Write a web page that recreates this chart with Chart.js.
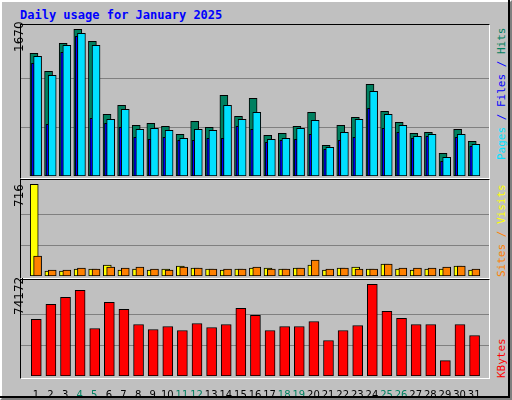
<!DOCTYPE html>
<html>
<head>
<meta charset="utf-8">
<script src="https://cdn.jsdelivr.net/npm/chart.js@4"></script>
<style>
  body { margin: 0; width: 512px; height: 400px; background: #fff; overflow: hidden; }
  #frame { position: absolute; left: 0; top: 0; width: 508px; height: 396px; background: #c0c0c0;
           border: 2px solid; border-color: #fff #808080 #808080 #fff; box-sizing: content-box; }
  #frame2 { position: absolute; left: 0; top: 0; width: 510px; height: 398px; border-right: 2px solid #000; border-bottom: 2px solid #000; box-sizing: border-box; }
  .panel { position: absolute; left: 20px; width: 470px; border: 1px solid; border-color: #000 #fff #fff #000; box-sizing: border-box; }
  canvas { position: absolute; }
  .title { position: absolute; left: 20px; top: 8px; font: bold 12px "DejaVu Sans Mono", monospace; color: #0000ff; }
  .vmax { position: absolute; font: 12px "DejaVu Sans", sans-serif; color: #000; transform-origin: 0 0; transform: rotate(-90deg); white-space: nowrap; }
  .side { position: absolute; font: 11px "DejaVu Sans Mono", monospace; transform-origin: 0 0; transform: rotate(-90deg); white-space: nowrap; }
</style>
</head>
<body>
<div id="frame"></div>
<div id="frame2"></div>
<div class="title">Daily usage for January 2025</div>
<div class="panel" style="top:24px;height:155px"></div>
<div class="panel" style="top:179px;height:100px"></div>
<div class="panel" style="top:279px;height:100px"></div>
<canvas id="c1" style="left:21px;top:25px" width="468" height="151"></canvas>
<canvas id="c2" style="left:21px;top:181px" width="468" height="95"></canvas>
<canvas id="c3" style="left:21px;top:281px" width="468" height="115"></canvas>
<div class="vmax" style="left:12px;top:52px">1670</div>
<div class="vmax" style="left:12px;top:207px">716</div>
<div class="vmax" style="left:12px;top:315px">74172</div>
<div class="side" style="left:495px;top:160px"><span style="color:#00e0ff">Pages</span> <span style="color:#0000ff">/</span> <span style="color:#0000ff">Files</span> <span style="color:#0000ff">/</span> <span style="color:#008060">Hits</span></div>
<div class="side" style="left:495px;top:277px"><span style="color:#ff8000">Sites</span> <span style="color:#ff8000">/</span> <span style="color:#ffff00">Visits</span></div>
<div class="side" style="left:495px;top:378px"><span style="color:#ff0000">KBytes</span></div>
<script>
const days = Array.from({ length: 31 }, (_, i) => i + 1);
const weekend = [4, 5, 11, 12, 18, 19, 25, 26];

const hits = [1397, 1192, 1510, 1670, 1533, 702, 805, 577, 600, 565, 474, 622, 554, 918, 679, 884,
  463, 486, 565, 725, 349, 577, 668, 1044, 736, 611, 486, 497, 258, 531, 395];
const files = [1362, 1146, 1488, 1624, 1488, 645, 759, 531, 543, 520, 429, 531, 520, 805, 645, 725,
  417, 429, 543, 634, 326, 497, 645, 964, 702, 577, 452, 474, 213, 474, 361];
const pages = [1283, 588, 1408, 1590, 657, 600, 554, 440, 417, 440, 406, 406, 429, 429, 565, 531,
  383, 406, 417, 474, 304, 406, 440, 770, 543, 497, 429, 452, 167, 440, 338];
const visits = [716, 39, 39, 54, 54, 86, 47, 54, 47, 54, 78, 62, 54, 47, 54, 62,
  62, 54, 62, 86, 47, 62, 70, 54, 93, 54, 47, 54, 54, 78, 47];
const sites = [156, 47, 47, 62, 54, 70, 62, 70, 54, 47, 70, 62, 54, 54, 54, 70,
  54, 54, 62, 125, 54, 62, 54, 54, 93, 62, 62, 62, 70, 78, 54];
const kbytes = [45750, 57930, 63610, 69300, 38440, 59550, 53870, 41690, 37630, 40060, 36810, 42500,
  39250, 41690, 54680, 49000, 36810, 40060, 40060, 44120, 28690, 36810, 40870, 74172, 52240,
  46560, 41690, 41690, 12450, 41690, 32750];

function pts(values, off) {
    return values.map((v, i) => ({ x: days[i] + off, y: v }));
}

function bars(label, values, off, color, width) {
    return {
        label, data: pts(values, off), backgroundColor: color, borderColor: '#000',
        borderWidth: 1, borderSkipped: false, barThickness: width, grouped: false
    };
}

// ось y: сетка на трети максимума
function yScale(top, max) {
    return {
        min: 0, max: max, display: true,
        border: { display: false },
        ticks: { display: false },
        grid: { color: '#808080', lineWidth: 1, drawTicks: false },
        afterBuildTicks: s => { s.ticks = [{ value: top / 3 }, { value: top * 2 / 3 }]; },
        afterFit: s => { s.width = 0; }
    };
}

function xScale(showLabels) {
    return {
        type: 'linear', min: 0.5, max: 31.5, display: showLabels,
        border: { display: false },
        grid: { display: false },
        afterBuildTicks: s => { s.ticks = days.map(d => ({ value: d })); },
        afterFit: s => { s.height = showLabels ? 20 : 0; },
        ticks: {
            autoSkip: false, maxRotation: 0, padding: 5,
            font: { family: 'DejaVu Sans', size: 10 },
            color: c => weekend.includes(c.tick.value) ? '#008060' : '#000',
            callback: v => v
        }
    };
}

function makeChart(id, datasets, top, max, showLabels) {
    new Chart(document.getElementById(id), {
        type: 'bar',
        data: { datasets },
        options: {
            responsive: false, animation: false,
            layout: { padding: 0 },
            plugins: { legend: { display: false }, tooltip: { enabled: false } },
            scales: { x: xScale(showLabels), y: yScale(top, max) }
        }
    });
}

// первый набор рисуется поверх остальных
makeChart('c1', [
    bars('Files', files, 0.12, '#00e0ff', 8),
    bars('Pages', pages, -0.2, '#0000ff', 3),
    bars('Hits', hits, -0.13, '#008060', 8)
], 1670, 1719, false);

makeChart('c2', [
    bars('Sites', sites, 0.12, '#ff8000', 8),
    bars('Visits', visits, -0.11, '#ffff00', 8)
], 716, 742, false);

makeChart('c3', [
    bars('KBytes', kbytes, 0.03, '#ff0000', 10)
], 74172, 76850, true);
</script>
</body>
</html>
